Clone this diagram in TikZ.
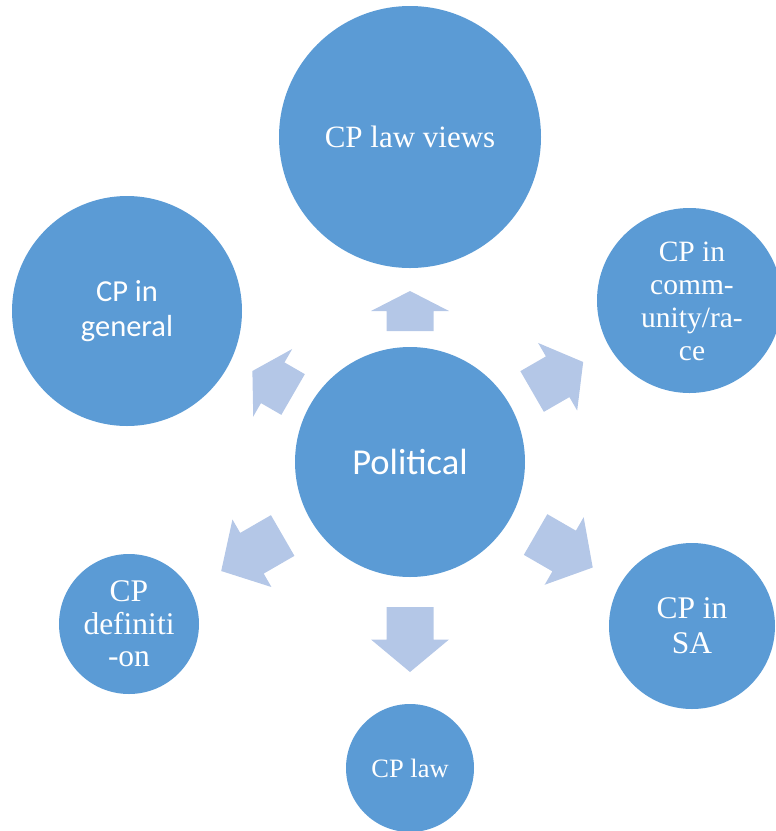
\documentclass[tikz,border=0pt]{standalone}
\usepackage{fontspec}
\setmainfont{Liberation Serif}
\newfontfamily\carlito{Carlito}
\definecolor{circblue}{HTML}{5B9BD5}
\definecolor{arrblue}{HTML}{B4C7E7}
\tikzset{
  bubble/.style={circle, fill=circblue, draw=none, text=white, align=center, inner sep=0pt},
  blockarrow/.style={fill=arrblue, draw=none}
}
\newcommand{\blockarr}[3]{% angle, base distance, tip distance
  \begin{scope}[shift={(410,462)}, rotate=#1]
    \pgfmathsetmacro{\rmid}{(#2+#3)/2}
    \fill[blockarrow] (#2pt,-23.5pt) -- (\rmid pt,-23.5pt) -- (\rmid pt,-39pt) -- (#3pt,0pt)
      -- (\rmid pt,39pt) -- (\rmid pt,23.5pt) -- (#2pt,23.5pt) -- cycle;
  \end{scope}}
\begin{document}
\begin{tikzpicture}[x=1pt,y=-1pt]
\useasboundingbox (0,0) rectangle (776,831);
\clip (0,0) rectangle (776,831);
% arrows
\blockarr{90}{131}{171}
\blockarr{150}{135}{182}
\blockarr{30}{141}{200}
\blockarr{-30}{145}{211}
\blockarr{-90}{145}{210}
\blockarr{210}{147}{218}
% circles
\node[bubble, minimum size=230pt, font=\carlito\fontsize{36.5}{42}\selectfont] (pol) at (410,462) {Political};
\node[bubble, minimum size=262pt, font=\fontsize{31}{35}\selectfont] (views) at (410,137) {CP law views};
\node[bubble, minimum size=230pt, font=\carlito\fontsize{30.5}{35}\selectfont] (gen) at (127,311) {CP in\\general};
\node[bubble, minimum size=185pt] (comm) at (689.5,300.5) {};
\node[text=white, align=center, inner sep=0pt, font=\fontsize{29.5}{33}\selectfont] (commtext) at (692,301) {CP in\\comm-\\unity/ra-\\ce};
\node[bubble, minimum size=166pt, font=\fontsize{31.5}{35}\selectfont] (sa) at (692,626) {CP in\\SA};
\node[bubble, minimum size=128pt, font=\fontsize{26.5}{30}\selectfont] (law) at (410,768) {CP law};
\node[bubble, minimum size=140pt, font=\fontsize{31.5}{32.5}\selectfont] (def) at (129,624) {CP\\definiti\\-on};
\end{tikzpicture}
\end{document}
